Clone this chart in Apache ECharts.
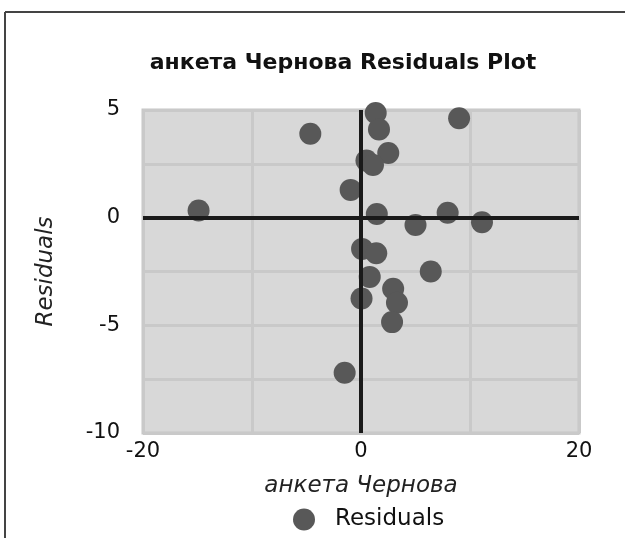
<!DOCTYPE html>
<html>
<head>
<meta charset="utf-8">
<script src="https://cdn.jsdelivr.net/npm/echarts@6/dist/echarts.min.js"></script>
<style>
html,body{margin:0;padding:0;background:#fff;}
#chart{width:625px;height:538px;}
</style>
</head>
<body>
<div id="chart"></div>
<script>
// Data
var titleText = 'анкета Чернова Residuals Plot';
var xName = 'анкета Чернова';
var yName = 'Residuals';
var seriesName = 'Residuals';
var xValues = [1.35, 1.65, 9.0, -4.65, 2.5, 0.5, 1.1, -0.95, -14.9, 1.45, 5.0, 7.95, 11.1, 0.1, 1.4, 6.4, 0.8, 0.05, 2.95, 3.3, 2.85, -1.5];
var yValues = [4.86, 4.1, 4.62, 3.9, 3.0, 2.65, 2.45, 1.29, 0.33, 0.17, -0.34, 0.23, -0.21, -1.45, -1.65, -2.5, -2.75, -3.75, -3.3, -3.95, -4.85, -7.2];
var xTickLabels = [-20, 0, 20];
var yTickLabels = [5, 0, -5, -10];

var points = xValues.map(function (x, i) { return [x, yValues[i]]; });
var font = '"DejaVu Sans", "Liberation Sans", Arial, sans-serif';

var chart = echarts.init(document.getElementById('chart'));
chart.setOption({
  animation: false,
  backgroundColor: '#ffffff',
  title: {
    text: titleText,
    left: 338, top: 47, textAlign: 'center',
    textStyle: { fontFamily: font, fontWeight: 'bold', fontSize: 22, color: '#111' }
  },
  legend: {
    data: [seriesName],
    left: 288, top: 503,
    itemWidth: 22, itemHeight: 22,
    icon: 'circle',
    textStyle: { fontFamily: font, fontSize: 23, color: '#111', padding: [0, 0, 0, 15] }
  },
  grid: { left: 143, right: 46, top: 110, bottom: 105, backgroundColor: '#d8d8d8', show: true, borderColor: '#c6c6c6', borderWidth: 3 },
  graphic: [
    { type: 'line', shape: { x1: 5, y1: 12, x2: 625, y2: 12 }, style: { stroke: '#444', lineWidth: 2 } },
    { type: 'line', shape: { x1: 5, y1: 12, x2: 5, y2: 538 }, style: { stroke: '#444', lineWidth: 2 } }
  ],
  xAxis: {
    type: 'value', min: -20, max: 20, interval: 10,
    name: xName, nameLocation: 'middle', nameGap: 42,
    nameTextStyle: { fontFamily: font, fontStyle: 'italic', fontSize: 23, color: '#222' },
    axisLine: { show: false }, axisTick: { show: false },
    splitLine: { show: true, lineStyle: { color: '#c9c9c9', width: 3 } },
    axisLabel: {
      margin: 8, fontFamily: font, fontSize: 21, color: '#111',
      formatter: function (v) { return xTickLabels.indexOf(v) >= 0 ? String(v) : ''; }
    }
  },
  yAxis: {
    type: 'value', min: -10, max: 5, interval: 2.5,
    name: yName, nameLocation: 'middle', nameGap: 85,
    nameTextStyle: { fontFamily: font, fontStyle: 'italic', fontSize: 23, color: '#222' },
    axisLine: { show: false }, axisTick: { show: false },
    splitLine: { show: true, lineStyle: { color: '#c9c9c9', width: 3 } },
    axisLabel: {
      margin: 23, fontFamily: font, fontSize: 21, color: '#111',
      formatter: function (v) { return yTickLabels.indexOf(v) >= 0 ? String(v) : ''; }
    }
  },
  series: [{
    name: seriesName,
    type: 'scatter',
    data: points,
    symbolSize: 22,
    itemStyle: { color: '#585858', opacity: 1 },
    markLine: {
      silent: true, symbol: 'none', z: 10,
      label: { show: false },
      lineStyle: { color: '#1a1a1a', width: 4, type: 'solid' },
      data: [{ xAxis: 0 }, { yAxis: 0 }]
    }
  }]
});
</script>
</body>
</html>
